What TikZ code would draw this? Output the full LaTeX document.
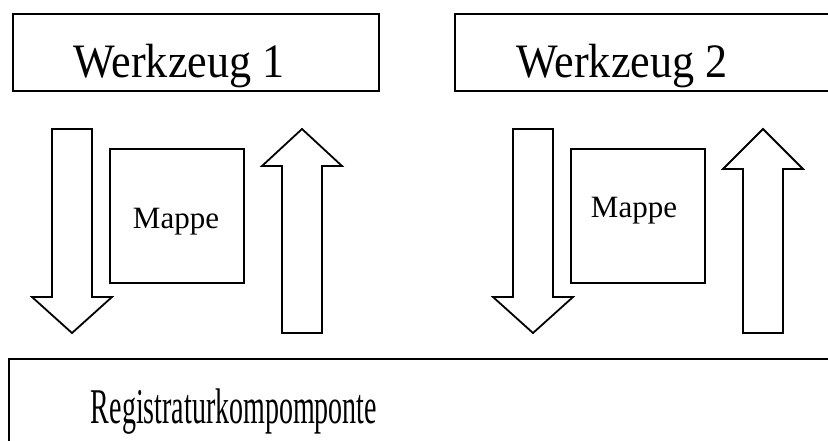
\documentclass[tikz,border=0pt]{standalone}
\usepackage{fontspec}
\setmainfont{Liberation Serif}
\newfontfamily\toolfont[FakeStretch=0.92]{Liberation Serif}
\newfontfamily\regfont[FakeStretch=0.56]{Liberation Serif}
\begin{document}
\begin{tikzpicture}[x = 1pt, y = -1pt, line width = 1.8pt,
                    box/.style = {draw, rectangle, inner sep = 0pt},
                    tool text/.style = {anchor = base, inner sep = 0pt, font = \toolfont\fontsize{48}{50}\selectfont},
                    folder text/.style = {anchor = base, inner sep = 0pt, font = \fontsize{31}{33}\selectfont},
                    reg text/.style = {anchor = base, inner sep = 0pt, font = \regfont\fontsize{50}{52}\selectfont},
                    block/.style = {draw, line join = miter}]
                    \useasboundingbox (0, 0) rectangle (828, 440);
                    \clip (0, 0) rectangle (828, 440);

                    % tools
                    \node at (196, 52.5) [box, minimum width = 366pt, minimum height = 77pt] (tool1) {};
                    \node at (179, 77) [tool text] (tool1text) {Werkzeug 1};
                    \node at (648, 52.5) [box, minimum width = 386pt, minimum height = 77pt] (tool2) {};
                    \node at (622, 77) [tool text] (tool2text) {Werkzeug 2};

                    % folders
                    \node at (177, 216) [box, minimum size = 134pt] (folder1) {};
                    \node at (176, 228) [folder text] (folder1text) {Mappe};
                    \node at (638, 216) [box, minimum size = 134pt] (folder2) {};
                    \node at (634, 217) [folder text] (folder2text) {Mappe};

                    % registry
                    \node at (425, 405) [box, minimum width = 832pt, minimum height = 92pt] (registry) {};
                    \node at (234, 423) [reg text] (registrytext) {Registraturkompomponte};

                    % down arrows
                    \foreach \x in {72, 533}
                        \draw [block] (\x-20, 129) -- (\x+20, 129) -- (\x+20, 297) -- (\x+40, 297)
                            -- (\x, 333) -- (\x-40, 297) -- (\x-20, 297) -- cycle;

                    % up arrows
                    \foreach \x/\b in {302/166, 763/169}
                        \draw [block] (\x-20, 333) -- (\x+20, 333) -- (\x+20, \b) -- (\x+40, \b)
                            -- (\x, 129) -- (\x-40, \b) -- (\x-20, \b) -- cycle;
\end{tikzpicture}
\end{document}
